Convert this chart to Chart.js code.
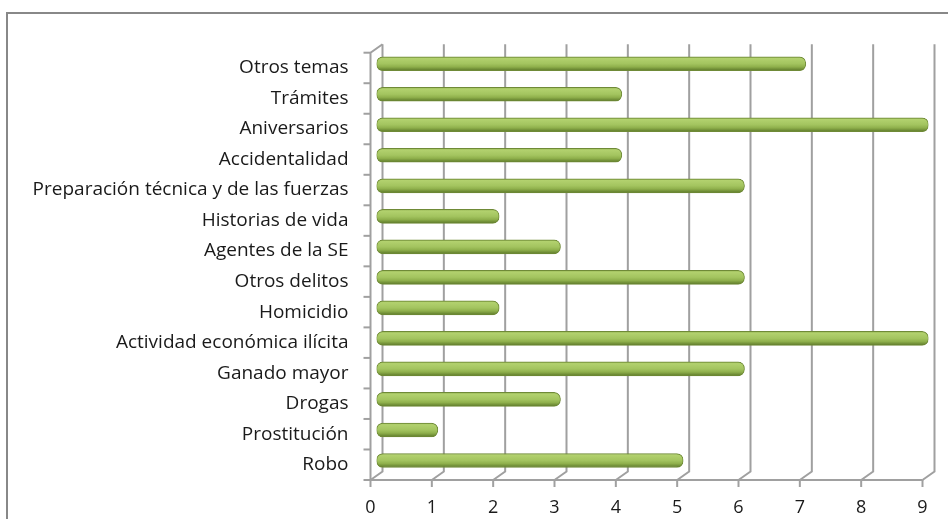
<!DOCTYPE html>
<html>
<head>
<meta charset="utf-8">
<script src="https://cdn.jsdelivr.net/npm/chart.js@4.4.0/dist/chart.umd.min.js"></script>
<style>
    html, body { margin: 0; padding: 0; background: #ffffff; }
    #wrap { width: 948px; height: 519px; position: relative; }
</style>
</head>
<body>
<div id="wrap"><canvas id="barChart"></canvas></div>
<script>
// Datos del gráfico (de arriba hacia abajo)
const categorias = ["Otros temas", "Trámites", "Aniversarios", "Accidentalidad",
    "Preparación técnica y de las fuerzas", "Historias de vida", "Agentes de la SE",
    "Otros delitos", "Homicidio", "Actividad económica ilícita", "Ganado mayor",
    "Drogas", "Prostitución", "Robo"];
const valores = [7, 4, 9, 4, 6, 2, 3, 6, 2, 9, 6, 3, 1, 5];
const marcasX = [0, 1, 2, 3, 4, 5, 6, 7, 8, 9];

// Profundidad del efecto 3D
const DX = 12, DY = 8.5;
const GRIS = "#a0a0a0";

// Dibuja paredes, rejilla y marco tipo Excel 3D
const marco3d = {
    id: "marco3d",
    beforeDatasetsDraw(chart) {
        const { ctx, chartArea: a, scales } = chart;
        const x = scales.x;
        ctx.save();
        ctx.strokeStyle = GRIS;
        ctx.lineWidth = 2;

        // rejilla del fondo con diagonal hacia el frente
        marcasX.forEach((v) => {
            const px = x.getPixelForValue(v);
            ctx.beginPath();
            ctx.moveTo(px + DX, a.top - DY);
            ctx.lineTo(px + DX, a.bottom - DY);
            ctx.lineTo(px, a.bottom);
            ctx.stroke();
        });

        // pared izquierda (frente) y suelo frontal
        ctx.beginPath();
        ctx.moveTo(a.left + DX, a.top - DY);
        ctx.lineTo(a.left, a.top);
        ctx.lineTo(a.left, a.bottom);
        ctx.lineTo(a.right, a.bottom);
        ctx.stroke();

        // marcas del eje x
        marcasX.forEach((v) => {
            const px = x.getPixelForValue(v);
            ctx.beginPath();
            ctx.moveTo(px, a.bottom);
            ctx.lineTo(px, a.bottom + 7);
            ctx.stroke();
        });

        // marcas del eje y (entre categorías)
        const paso = (a.bottom - a.top) / categorias.length;
        for (let i = 0; i <= categorias.length; i++) {
            const py = a.top + i * paso;
            ctx.beginPath();
            ctx.moveTo(a.left - 7, py);
            ctx.lineTo(a.left, py);
            ctx.stroke();
        }
        ctx.restore();

        // barras desplazadas a media profundidad
        ctx.save();
        ctx.translate(DX / 2, -DY / 2);
    },
    afterDatasetsDraw(chart) {
        chart.ctx.restore();
    },
    afterDraw(chart) {
        const ctx = chart.ctx;
        ctx.save();
        ctx.strokeStyle = "#888888";
        ctx.lineWidth = 2;
        ctx.beginPath();
        ctx.moveTo(7, 530);
        ctx.lineTo(7, 13);
        ctx.lineTo(960, 13);
        ctx.stroke();
        ctx.restore();
    }
};

function rellenoCilindro(context) {
    const chart = context.chart;
    const y = chart.scales.y;
    if (!y) return "#9bbb59";
    const cy = y.getPixelForValue(context.dataIndex);
    if (!isFinite(cy)) return "#9bbb59";
    const g = chart.ctx.createLinearGradient(0, cy - 7, 0, cy + 7);
    g.addColorStop(0, "#8fae4e");
    g.addColorStop(0.12, "#b2d16e");
    g.addColorStop(0.5, "#a3c45f");
    g.addColorStop(0.72, "#8fb04c");
    g.addColorStop(1, "#5c7829");
    return g;
}

new Chart(document.getElementById("barChart"), {
    type: "bar",
    data: {
        labels: categorias,
        datasets: [{
            label: "Temas",
            data: valores,
            backgroundColor: rellenoCilindro,
            borderColor: "#6f8a37",
            borderWidth: 1,
            borderSkipped: false,
            borderRadius: 6.5,
            barThickness: 14
        }]
    },
    plugins: [marco3d],
    options: {
        indexAxis: "y",
        responsive: true,
        maintainAspectRatio: false,
        devicePixelRatio: 1,
        animation: false,
        layout: { padding: { top: 52.7, right: 25.5, left: 0, bottom: 0 } },
        plugins: { legend: { display: false }, tooltip: { enabled: false } },
        scales: {
            x: {
                min: 0,
                max: 9,
                afterFit: (s) => { s.height = 39; },
                afterBuildTicks: (s) => { s.ticks = marcasX.map((v) => ({ value: v })); },
                grid: { display: false, drawTicks: false },
                border: { display: false },
                ticks: {
                    padding: 17,
                    color: "#1a1a1a",
                    font: { family: "Open Sans", size: 18 }
                }
            },
            y: {
                afterFit: (s) => { s.width = 370.5; },
                grid: { display: false, drawTicks: false },
                border: { display: false },
                ticks: {
                    padding: 22,
                    color: "#1a1a1a",
                    font: { family: "Open Sans", size: 19 }
                }
            }
        }
    }
});
</script>
</body>
</html>
